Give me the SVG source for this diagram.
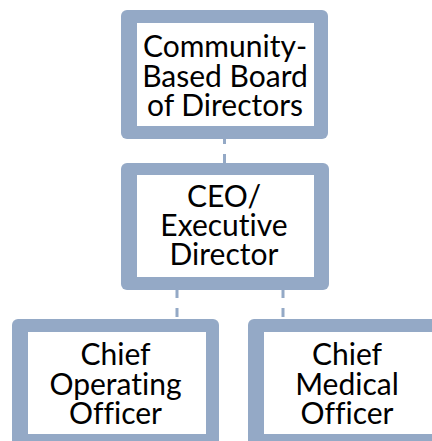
<svg xmlns="http://www.w3.org/2000/svg" width="432" height="441" viewBox="0 0 432 441">
  <style>
    .frame { fill: #94a9c6; }
    .panel { fill: #ffffff; }
    .label { font-family: Lato, "Noto Sans", "Liberation Sans", sans-serif; font-size: 30px; fill: #000000; text-anchor: middle; font-variant-ligatures: none; }
    .link { stroke: #94a9c6; stroke-width: 3; stroke-dasharray: 9 10; fill: none; }
  </style>
  <rect width="432" height="441" fill="#ffffff"/>

  <!-- dashed reporting lines, drawn beneath the boxes -->
  <g id="connectors">
    <line class="link" x1="224.5" y1="135" x2="224.5" y2="163"/>
    <line class="link" x1="177" y1="289" x2="177" y2="319"/>
    <line class="link" x1="283" y1="289" x2="283" y2="319"/>
  </g>

  <g id="board">
    <rect class="frame" x="121" y="10" width="207" height="129" rx="6"/>
    <rect class="panel" x="137" y="23" width="177" height="103"/>
    <text class="label" x="225" y="57">Community-</text>
    <text class="label" x="225" y="87">Based Board</text>
    <text class="label" x="225" y="116">of Directors</text>
  </g>

  <g id="ceo">
    <rect class="frame" x="121" y="163" width="208" height="127" rx="6"/>
    <rect class="panel" x="137" y="175" width="177" height="102"/>
    <text class="label" x="224" y="207">CEO/</text>
    <text class="label" x="224" y="236">Executive</text>
    <text class="label" x="224" y="265">Director</text>
  </g>

  <g id="coo">
    <rect class="frame" x="12" y="319" width="207" height="140" rx="6"/>
    <rect class="panel" x="28" y="332" width="178" height="102"/>
    <text class="label" x="115.5" y="365">Chief</text>
    <text class="label" x="115.5" y="395">Operating</text>
    <text class="label" x="115.5" y="424">Officer</text>
  </g>

  <g id="cmo">
    <rect class="frame" x="248" y="319" width="207" height="140" rx="6"/>
    <rect class="panel" x="264" y="332" width="190" height="102"/>
    <text class="label" x="347" y="365">Chief</text>
    <text class="label" x="347" y="395">Medical</text>
    <text class="label" x="347" y="424">Officer</text>
  </g>
</svg>
